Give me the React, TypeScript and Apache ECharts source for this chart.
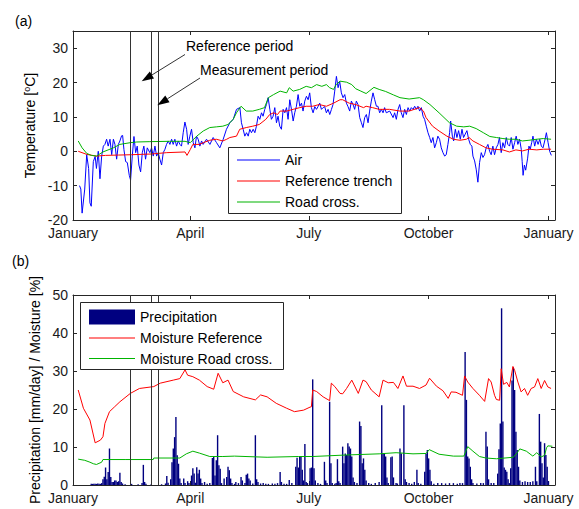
import React, { useEffect, useRef } from 'react';
import * as echarts from 'echarts';

// ---------- axis ticks / labels ----------
const monthTicks = [0, 90, 181, 273, 365];
const monthLabels = ['January', 'April', 'July', 'October', 'January'];
const tempTicks = [-20, -10, 0, 10, 20, 30];
const precipTicks = [0, 10, 20, 30, 40, 50];
const periodLines = [44, 60, 65.5];

// ---------- panel (a): temperatures [day, degC] ----------
const airTemp: [number, number][] = [
  [5, -10], [6, -11], [7, -18], [9, -11], [10.5, -1], [12, -5], [13, -15], [14, -16], [15.6, -3], [17, -1.5],
  [18, -5], [19.4, 0], [20.7, -8], [22, -1.4], [23.3, 1.5], [24.5, 2], [25.8, 3.5], [27, 1.5], [28.4, 3.5], [29.7, -1],
  [31, 3.5], [32.2, 2], [33.5, -2.3], [34.8, 2], [36, 3], [37.3, 4.5], [38.1, 4.6], [39.1, 0.5], [40.4, -3], [41.7, -3.3],
  [43.2, -7], [44.2, -8.4], [45.5, -1.4], [46.8, 4.3], [48.1, -0.4], [49.3, 1.5], [50.6, -4], [51.9, -6], [53.2, -0.4], [54.4, 1.5],
  [55.7, -2.3], [57, 1], [59, -0.4], [60.3, 1], [61.6, -1.4], [62.9, 1.5], [64.2, -1.4], [65.4, -0.4], [66.7, -2.3], [68, -4],
  [69.3, -0.4], [70.6, 0.6], [71.8, 2], [73.1, 3], [74.4, 2], [75.7, 3.5], [76.9, 2], [78.2, 3.5], [79.5, 1.5], [80.8, 3],
  [82.1, 2], [83.3, 1.5], [84.6, 5.4], [85.9, 8.5], [87.2, 6.4], [88.4, 2], [89.7, 4.4], [91, 6.4], [92.3, 2.5], [93.6, 1],
  [94.8, 4.4], [96.1, 3.5], [97.4, 1.5], [98.7, 3], [99.9, 2], [102.5, 3.5], [105.1, 2], [107.6, 4], [110.2, 2.5], [112.7, 1],
  [115.3, 3.5], [117.8, 6.4], [120.4, 8.3], [123, 9.3], [125.5, 12.2], [128.1, 12.7], [129.3, 8.3], [130.6, 6.4], [131.9, 4.4], [133.2, 5.4],
  [134.5, 4.4], [135.7, 6.4], [137, 5.4], [138.3, 6.4], [139.6, 5.4], [140.8, 7.3], [142.1, 10.2], [143.4, 9.3], [144.7, 11.2], [145.9, 10.2],
  [147.2, 12.2], [148.5, 13.6], [149.8, 15.6], [151.1, 12.2], [152.3, 9.3], [153.6, 10.2], [154.9, 12.7], [156.2, 8.3], [157.4, 10.2], [158.7, 7.3],
  [160, 6.4], [161.3, 12.2], [162.6, 11.2], [163.9, 12.7], [165.1, 9.3], [166.4, 15], [167.7, 12.2], [169, 8.8], [170.2, 11.2], [171.5, 13.1],
  [172.8, 16.5], [174.1, 13.1], [175.4, 14], [176.6, 11.7], [177.9, 14.6], [179.2, 16], [180.5, 15], [181.7, 17], [183, 12.7], [184.3, 11.2],
  [185.6, 13], [186.9, 12.2], [188.1, 13], [189.4, 14], [190.7, 12.2], [192, 12.7], [193.2, 13], [194.5, 11.2], [195.8, 12.2], [197.1, 10.7],
  [198.4, 12.2], [199.6, 13.6], [200.9, 17.5], [202.2, 21.8], [203.5, 18.5], [204.7, 20.4], [206, 17], [207.3, 15.6], [208.6, 16.5], [209.9, 14],
  [211.1, 13], [212.4, 11.7], [213.7, 14.6], [215, 13.6], [216.2, 12.2], [217.5, 14.6], [218.8, 13.6], [220.1, 9.8], [221.4, 8.3], [222.6, 6.9],
  [223.9, 9.8], [225.2, 10.7], [226.5, 8.3], [227.7, 11.7], [229, 14.6], [230.3, 17], [231.6, 15], [232.9, 13.1], [234.1, 13.1], [235.4, 11.2],
  [236.7, 12.2], [238, 11.2], [239.2, 12.7], [240.5, 11.2], [243.1, 11.7], [245.7, 9.8], [246.9, 11.2], [248.2, 9.3], [249.5, 12.2], [250.8, 13.6],
  [252, 11.2], [253.3, 9.8], [254.6, 12.2], [255.9, 10.7], [257.2, 12.7], [258.4, 11.7], [259.7, 12.7], [261, 12.2], [262.3, 13.1], [263.5, 12.2],
  [264.8, 13.1], [266.1, 11.7], [267.4, 12.7], [268.7, 10.2], [269.9, 9.3], [271.2, 7.3], [272.5, 5.4], [273.8, 4], [275, 2.5], [276.3, 4],
  [277.6, 1], [278.9, 2.5], [280.1, 4.4], [281.4, 3.5], [282.7, 1], [284, -0.4], [285.3, -1.4], [286.5, -1], [287.8, 2], [289.1, 5.4],
  [289.9, 8.8], [291.2, 4.4], [292.2, 3], [293.5, 6.4], [294.7, 4], [296, 6], [297.3, 3.5], [298.6, 6.4], [299.8, 4], [301.1, 5],
  [302.4, 6], [303.7, 3.5], [305, 2], [306.2, 1.5], [307, -1.4], [308.3, -2.8], [309.5, -5.2], [310.8, -9], [312.1, -3.3], [313.4, -0.4],
  [314.7, -1.8], [315.9, -1], [317.2, 1], [318.5, 2], [319.8, 0], [321, -1], [322.3, 1.5], [323.6, -1], [324.9, 1], [326.2, 2],
  [327.4, 4], [328.7, -0.4], [330, 2.5], [331.3, 1], [332.6, 4], [333.8, 2], [335.1, 1.5], [336.4, 4], [337.7, 0.6], [339, 2.5],
  [340.2, 4.4], [341.5, 2], [342.8, 3.5], [344.1, 0.6], [344.8, -3], [345.5, -7], [346.5, -4], [347.5, -5.5], [349, -2], [350, 1.5],
  [351, 0.6], [352.1, 2.5], [353.1, 4.4], [354.4, 1.5], [355.7, 3.5], [357, 2], [358.3, 3.5], [359.5, 1.5], [360.8, 1], [362.1, 3],
  [363.4, 5.4], [364.7, 2.5], [365.9, 0], [367.2, -1.2],
];

const refTrenchTemp: [number, number][] = [
  [4, 0], [10.5, -0.9], [18, -1.4], [25, -1.2], [35, -1.1], [45, -1], [60, -0.8], [72, -0.4], [86, -0.2], [87.5, -1.2],
  [90, 0.5], [92, 2], [97, 2], [100, 2.5], [105, 3.2], [110, 3.5], [115, 3], [118, 3.5], [120.4, 4], [125.5, 4.4],
  [128, 6.4], [133, 6.9], [138, 7.3], [143, 7.8], [148, 9.3], [151, 10.7], [154, 11.2], [157, 10.7], [159, 11.7], [164, 11.7],
  [169, 12.2], [174, 12.7], [179, 13.1], [184, 13.1], [189, 13.6], [194.5, 13.1], [200, 14], [205, 15], [207, 15], [212, 14],
  [217, 13.6], [223, 12.7], [225, 13.1], [230, 12.7], [235, 12.2], [240, 12.2], [243, 12.2], [251, 11.7], [258, 11.7], [266, 12.7],
  [269, 11.7], [271, 9.8], [276, 7.3], [281, 5.9], [287, 4.4], [292, 3.5], [297, 3.2], [302, 3.5], [304, 4], [307, 3],
  [312, 2], [317, 1], [322, 0.6], [330, 0.4], [335, -0.2], [340, 0.4], [345, 0.1], [350, 0.6], [356, 0.4], [361, 0.6], [367, 0.6],
];

const roadCrossTemp: [number, number][] = [
  [4, 3], [7, 1], [10.5, -0.6], [14, -1.2], [18, -1.4], [23, -0.2], [31, 1], [36, 2], [44, 2.5], [49, 2.7],
  [59, 2.8], [74, 2.9], [86, 2.9], [90, 2.5], [95, 4.4], [100, 5.9], [105, 6.9], [110, 7.1], [115, 7.3], [119, 7.8],
  [123, 9.3], [125.5, 11.2], [129, 13.1], [133, 11.7], [138, 11.7], [143, 12.2], [147, 12.7], [150, 15.6], [154, 16.5], [159, 17.5],
  [164, 17], [166, 18.5], [169, 17.5], [174, 18], [179, 18.9], [183, 18.5], [187, 19.4], [191, 18.9], [194.5, 19.4], [197, 18.5],
  [200, 18], [202, 19.4], [205, 20.4], [210, 20.1], [214, 19.4], [217, 18.2], [221, 17.5], [225, 16.8], [231, 18.6], [235, 18],
  [240, 17.4], [246, 16.4], [251, 15.6], [258, 15.2], [266, 15.6], [269, 15], [274, 13.6], [281, 11.2], [289, 8.3], [294.5, 7.3],
  [300, 7.1], [304.5, 7.3], [309.5, 6.6], [315, 5.4], [320, 4.3], [325, 4], [330, 3.7], [335, 3.5], [340, 3.5], [345, 3],
  [350, 3.2], [356, 3.5], [361, 3.7], [367, 3.5],
];

// ---------- panel (b): precipitation [day, mm/day] and moisture [day, %] ----------
const precipitation: [number, number][] = [
  [14, 0.3], [15, 0.3], [16, 0.3], [17, 0.3], [18, 0.3], [19, 0.4], [20, 0.3], [21, 0.3], [22, 0.5], [23, 1.5],
  [24, 2.2], [25, 4.6], [26, 1.5], [27, 3.4], [28, 9.6], [29, 2.1], [30, 0.8], [31, 0.8], [32, 1.2], [33, 1.2],
  [34, 0.8], [35, 1], [36, 3.2], [37, 0.8], [38, 0.4], [40, 0.2], [45, 0.3], [50, 0.2], [53, 0.5], [54, 5.3],
  [55, 0.8], [56, 0.3], [60, 0.2], [68, 0.2], [71, 0.4], [72, 2.4], [73, 0.6], [75, 1.5], [76, 6], [77, 9.6],
  [78, 12.6], [79, 17.9], [80, 7.8], [81, 5.6], [82, 1.7], [83, 0.5], [85, 1.7], [86, 0.5], [88, 1], [89, 0.5],
  [91, 2.5], [92, 4.4], [93, 3], [94, 0.6], [95, 4.7], [96, 3], [97, 4], [98, 1.7], [99, 0.5], [101, 0.8],
  [103, 0.3], [105, 0.5], [107, 7.1], [108, 7.5], [109, 2.5], [110, 6.5], [111, 13.1], [112, 5.2], [113, 4.3], [114, 0.5],
  [116, 1.7], [118, 2.1], [119, 4.8], [120, 3.9], [121, 1.7], [122, 0.5], [124, 0.3], [125, 0.8], [127, 0.5], [129, 2.1],
  [130, 1.2], [132, 0.5], [133, 2.7], [134, 3], [135, 1.7], [136, 1.2], [138, 0.4], [140, 13.1], [141, 1.5], [142, 0.8],
  [144, 0.4], [146, 0.5], [148, 0.3], [150, 0.3], [153, 0.4], [155, 0.3], [157, 0.5], [159, 3.4], [160, 0.8], [162, 0.3],
  [164, 0.3], [166, 1.3], [168, 0.5], [171, 4.8], [172, 7.2], [173, 4.6], [174, 7.5], [175, 7.5], [176, 4], [177, 1.2],
  [178, 10.8], [179, 0.8], [180, 0.5], [182, 4.4], [183, 4.6], [184, 27.8], [185, 4.4], [186, 1.2], [188, 0.5], [190, 0.3],
  [193, 6.1], [194, 1.2], [195, 0.5], [197, 21.9], [198, 5.7], [199, 0.5], [201, 0.3], [202, 0.5], [203, 6.8], [204, 1],
  [205, 0.5], [207, 10.1], [208, 5.7], [209, 8.3], [210, 7.9], [211, 11], [212, 10.1], [213, 9.6], [214, 7.5], [215, 2],
  [216, 0.8], [218, 0.5], [220, 16.7], [221, 15.5], [222, 5.7], [223, 7], [224, 4], [225, 1.2], [227, 0.5], [229, 0.3],
  [232, 0.5], [235, 0.8], [237, 21], [238, 8.3], [239, 8.3], [240, 7.5], [241, 2], [242, 0.5], [244, 7.3], [245, 7.5],
  [246, 2], [248, 0.5], [249, 0.4], [251, 9.6], [252, 8.3], [254, 21], [255, 1.5], [256, 0.8], [258, 0.5], [260, 0.3],
  [262, 0.8], [264, 4], [265, 0.5], [267, 0.3], [270, 3.5], [271, 8.2], [272, 9.2], [273, 7], [274, 4], [275, 1],
  [277, 0.3], [280, 0.5], [283, 0.5], [286, 0.4], [289, 0.5], [292, 0.5], [295, 0.3], [297, 0.5], [299, 0.5], [301, 35],
  [302, 22.4], [303, 7.5], [304, 7], [305, 4.8], [306, 1.5], [307, 0.5], [310, 0.4], [313, 0.5], [315, 0.5], [317, 14],
  [318, 10.1], [319, 1.5], [321, 0.5], [323, 0.5], [326, 3], [327, 9.4], [328, 16.2], [329, 46.5], [330, 16.7], [331, 4.6],
  [332, 4], [333, 3.5], [334, 1.5], [335, 0.5], [336, 4.4], [337, 27.5], [338, 31], [339, 25], [340, 14], [341, 9.2],
  [342, 4.8], [343, 1.2], [345, 0.8], [347, 1], [349, 0.8], [351, 0.8], [353, 1], [355, 4.8], [356, 1], [358, 18.7],
  [359, 11.4], [360, 5.7], [361, 2], [362, 11], [363, 7.9], [364, 4.8], [365, 1],
];

const moistureReference: [number, number][] = [
  [4, 25], [8, 20.2], [13, 17.1], [17, 11.1], [21, 11.8], [23, 12.7], [24.5, 16.2], [28, 19.3], [32, 20.6], [36, 21.9],
  [44, 24.1], [51, 25.4], [62, 25.9], [67, 26.8], [77, 27.6], [82, 28], [86, 30.3], [88, 28.9], [92, 28.5], [97, 27.6],
  [103, 25.9], [108, 25.2], [111.4, 29.4], [115, 26.9], [119, 27.6], [123, 24.6], [131, 23.2], [140, 22.4], [144, 23.7], [149, 23.2],
  [156, 21.5], [164, 20.2], [170, 19.3], [177, 19.7], [182, 20.5], [183, 20.6], [184, 25], [187, 24.6], [192, 23.2], [197, 22.2],
  [198.3, 26.8], [201, 25.9], [205, 24.1], [207, 24], [210, 25.4], [214, 27.6], [219, 24.1], [222.6, 27.6], [225, 27.2], [229, 25],
  [235, 23.2], [238, 27.6], [242, 26.9], [246, 27], [249.4, 25.4], [253.3, 28.7], [256, 26], [261, 26], [266, 25.4], [271, 26.3],
  [273.7, 28.1], [279, 26], [284, 24.8], [288, 22.8], [290.3, 24.5], [294, 24.4], [299, 23.6], [300.6, 28.7], [303, 27.1], [307, 25.4],
  [312, 23.6], [316, 22], [319, 28], [321, 27.1], [323.6, 23.6], [325, 22.5], [327.5, 22.3], [328.7, 30.6], [330.5, 26.5], [333, 27],
  [335, 25.8], [337.7, 31.2], [339, 30.2], [341.5, 27.1], [344, 24.5], [346.6, 25.4], [349, 23.6], [351.7, 25.4], [354.3, 25.8], [356.8, 28],
  [359.4, 25.4], [362, 27.5], [364.5, 25.8], [367, 25.4],
];

const moistureRoadCross: [number, number][] = [
  [4, 6.8], [9, 6.5], [13, 6], [15.6, 5.6], [18, 5.4], [22, 6], [23, 6.7], [40, 6.7], [61.6, 6.7], [62, 7.1],
  [82, 7.1], [87, 8.2], [92, 8.9], [97, 8.4], [105, 7.5], [115, 7.5], [124, 7.6], [149, 7.3], [173, 7.5], [184, 7.5],
  [210, 7.9], [235, 8.2], [248, 8.5], [261, 8.2], [271, 8.3], [273.5, 9.3], [281, 8.1], [292, 7.6], [300, 7.6], [303, 10.1],
  [307, 8.9], [312, 7.5], [317, 7.1], [325, 6.9], [338, 7.3], [341, 8.5], [343, 9.5], [348, 8.9], [353, 7.6], [356, 8.5],
  [359.4, 7.4], [362, 7.8], [363.5, 9.8], [364.5, 10.3], [368, 10.2],
];

// ---------- styling ----------
const FONT = "'Liberation Sans', Arial, sans-serif";
const FS = 14;
const FRAME = '#262626';
const TXT = '#1a1a1a';
const BLUE = '#0000ff';
const RED = '#ff0000';
const GREEN = '#00b400';
const NAVY = '#000080';

function xAxisDef(gridIndex: number, position: 'top' | 'bottom', showLabel: boolean) {
  return {
    type: 'value', gridIndex, position, min: 0, max: 370,
    splitLine: { show: false },
    axisLine: { show: true, onZero: false, lineStyle: { color: FRAME, width: 1 } },
    axisTick: { show: true, inside: true, length: 4, customValues: monthTicks, lineStyle: { color: FRAME } },
    axisLabel: {
      show: showLabel, customValues: monthTicks, margin: 6, fontSize: FS, lineHeight: 14, color: TXT, fontFamily: FONT,
      formatter: (v: number) => { const i = monthTicks.indexOf(v); return i >= 0 ? monthLabels[i] : ''; },
    },
  };
}

function yAxisDef(gridIndex: number, position: 'left' | 'right', min: number, max: number, ticks: number[], name: string, nameGap: number) {
  const left = position === 'left';
  return {
    type: 'value', gridIndex, position, min, max,
    splitLine: { show: false },
    axisLine: { show: true, onZero: false, lineStyle: { color: FRAME, width: 1 } },
    axisTick: { show: true, inside: true, length: 4, customValues: ticks, lineStyle: { color: FRAME } },
    axisLabel: { show: left, customValues: ticks, margin: 5, fontSize: FS, lineHeight: 12, color: TXT, fontFamily: FONT },
    name: left ? name : '',
    nameLocation: 'middle', nameGap,
    nameTextStyle: {
      fontSize: FS, color: '#000', fontFamily: FONT,
      rich: { sup: { fontSize: 9, verticalAlign: 'top', fontFamily: FONT, color: '#000', padding: [0, 0, 4, 0] } },
    },
  };
}

function arrow(x1: number, y1: number, x2: number, y2: number) {
  const dx = x2 - x1, dy = y2 - y1;
  const len = Math.sqrt(dx * dx + dy * dy);
  const ux = dx / len, uy = dy / len;
  const hl = 12, hw = 4;
  const bx = x2 - ux * hl, by = y2 - uy * hl;
  return [
    { type: 'line', z: 20, shape: { x1, y1, x2: bx, y2: by }, style: { stroke: '#333', lineWidth: 1 } },
    {
      type: 'polygon', z: 20,
      shape: { points: [[x2, y2], [bx - uy * hw, by + ux * hw], [bx + uy * hw, by - ux * hw]] },
      style: { fill: '#000' },
    },
  ];
}

function textEl(x: number, y: number, text: string) {
  return {
    type: 'text', x, y, z: 20,
    style: { text, fontSize: FS, fontFamily: FONT, fill: '#000', align: 'left', verticalAlign: 'middle' },
  };
}

function legendBox(x: number, y: number, width: number, height: number) {
  return {
    type: 'rect', z: 8, shape: { x, y, width, height },
    style: { fill: '#fff', stroke: FRAME, lineWidth: 1 },
  };
}

const legendText = { fontSize: FS, color: '#000', fontFamily: FONT, lineHeight: 14 };

const periodMarkLine = {
  silent: true, symbol: 'none',
  label: { show: false },
  lineStyle: { color: '#333', width: 1, type: 'solid' },
  data: periodLines.map((d) => ({ xAxis: d })),
};

export default function App() {
  const ref = useRef<HTMLDivElement>(null);
  useEffect(() => {
    document.body.style.margin = '0';
    const chart = echarts.init(ref.current!, null, { renderer: 'svg' });
    const lineSeries = (name: string, data: [number, number][], color: string, xi: number, yi: number, extra: any = {}) => ({
      name, type: 'line', data, xAxisIndex: xi, yAxisIndex: yi,
      showSymbol: false, symbol: 'none', clip: true,
      lineStyle: { color, width: 1 }, itemStyle: { color },
      ...extra,
    });
    const option: any = {
      animation: false,
      backgroundColor: '#fff',
      textStyle: { fontFamily: FONT },
      grid: [
        { left: 73, right: 24, top: 31, height: 189, show: false },
        { left: 73, right: 24, top: 295, height: 190, show: false },
      ],
      xAxis: [
        xAxisDef(0, 'bottom', true),
        xAxisDef(0, 'top', false),
        xAxisDef(1, 'bottom', true),
        xAxisDef(1, 'top', false),
      ],
      yAxis: [
        yAxisDef(0, 'left', -20, 35, tempTicks, 'Temperature [{sup|o}C]', 35),
        yAxisDef(0, 'right', -20, 35, tempTicks, '', 0),
        yAxisDef(1, 'left', 0, 50, precipTicks, 'Precipitation [mm/day] / Moisture [%]', 30),
        yAxisDef(1, 'right', 0, 50, precipTicks, '', 0),
      ],
      legend: [
        {
          orient: 'vertical', left: 237, top: 153, padding: 0,
          data: ['Air', 'Reference trench', 'Road cross.'],
          icon: 'rect', itemWidth: 43, itemHeight: 1.2, itemGap: 7,
          textStyle: legendText, selectedMode: false, z: 12,
        },
        {
          orient: 'vertical', left: 89, top: 309.5, padding: 0,
          data: ['Precipitation'],
          icon: 'rect', itemWidth: 46, itemHeight: 15,
          textStyle: legendText, selectedMode: false, z: 12,
        },
        {
          orient: 'vertical', left: 89, top: 331, padding: 0,
          data: ['Moisture Reference', 'Moisture Road cross.'],
          icon: 'rect', itemWidth: 46, itemHeight: 1.2, itemGap: 6.5,
          textStyle: legendText, selectedMode: false, z: 12,
        },
      ],
      series: [
        lineSeries('Air', airTemp, BLUE, 0, 0, { markLine: periodMarkLine }),
        lineSeries('Reference trench', refTrenchTemp, RED, 0, 0),
        lineSeries('Road cross.', roadCrossTemp, GREEN, 0, 0),
        {
          name: 'Precipitation', type: 'bar', data: precipitation, xAxisIndex: 2, yAxisIndex: 2,
          barWidth: 1.4, itemStyle: { color: NAVY }, markLine: periodMarkLine,
        },
        lineSeries('Moisture Reference', moistureReference, RED, 2, 2),
        lineSeries('Moisture Road cross.', moistureRoadCross, GREEN, 2, 2),
      ],
      graphic: [
        legendBox(228.5, 147.5, 173, 66),
        legendBox(80.5, 302.5, 203, 67),
        textEl(15, 21, '(a)'),
        textEl(12, 261, '(b)'),
        textEl(186, 46, 'Reference period'),
        textEl(200, 70, 'Measurement period'),
        ...arrow(185, 54.5, 141.7, 81.3),
        ...arrow(200, 78, 157.3, 105.3),
      ],
    };
    chart.setOption(option);
    return () => chart.dispose();
  }, []);
  return <div ref={ref} style={{ width: 579, height: 509 }} />;
}
